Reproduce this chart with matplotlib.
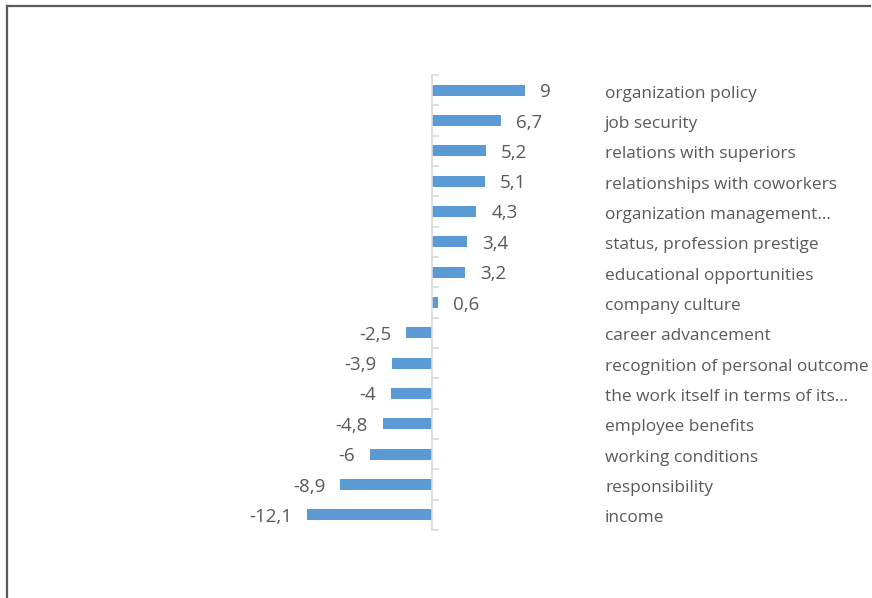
import numpy as np
import matplotlib
matplotlib.use('Agg')
import matplotlib.pyplot as plt
from matplotlib.lines import Line2D

# chart data, top to bottom
categories = ['organization policy', 'job security', 'relations with superiors',
              'relationships with coworkers', 'organization management...',
              'status, profession prestige', 'educational opportunities',
              'company culture', 'career advancement',
              'recognition of personal outcome', 'the work itself in terms of its...',
              'employee benefits', 'working conditions', 'responsibility', 'income']
values = [9, 6.7, 5.2, 5.1, 4.3, 3.4, 3.2, 0.6, -2.5, -3.9, -4, -4.8, -6, -8.9, -12.1]

bar_color = '#5B9BD5'
text_color = '#595959'
plt.rcParams['font.family'] = ['Open Sans', 'DejaVu Sans']

fig = plt.figure(figsize=(8.72, 5.98), dpi=100)
W, H = 872, 598
# zero at x=432 px, ~10.3 px per unit
x0, x1 = -20, 30
px_unit = 10.3
left_px = 432 + x0 * px_unit
ax = fig.add_axes([left_px / W, (H - 530) / H, (x1 - x0) * px_unit / W, 455 / H])

y = np.arange(len(categories))
ax.barh(y, values, height=0.36, color=bar_color, zorder=2)
ax.set_xlim(x0, x1)
ax.set_ylim(len(categories) - 0.5, -0.5)

for sp in ax.spines.values():
    sp.set_visible(False)
ax.set_xticks([])
ax.set_yticks([])

# vertical category axis at zero with ticks between categories
ax.axvline(0, color='#D9D9D9', lw=1.2, zorder=3)
for b in np.arange(-0.5, len(categories), 1):
    ax.plot([0, 0.6], [b, b], color='#D9D9D9', lw=1.2, zorder=3, clip_on=False)

off = 1.45
for yi, v in zip(y, values):
    lab = ('%g' % v).replace('.', ',')
    if v >= 0:
        ax.text(v + off, yi, lab, ha='left', va='center_baseline',
                fontsize=13.5, color=text_color)
    else:
        ax.text(v - off, yi, lab, ha='right', va='center_baseline',
                fontsize=13.5, color=text_color)
    ax.text(16.8, yi + 0.05, categories[yi], ha='left', va='center_baseline',
            fontsize=12.4, color=text_color)

# outer frame (top and left visible)
fig.add_artist(Line2D([7 / W, 870 / W], [1 - 6 / H, 1 - 6 / H], color='#595959', lw=1.6))
fig.add_artist(Line2D([7 / W, 7 / W], [0, 1 - 6 / H], color='#595959', lw=1.6))

fig.savefig('out.png', dpi=100)
